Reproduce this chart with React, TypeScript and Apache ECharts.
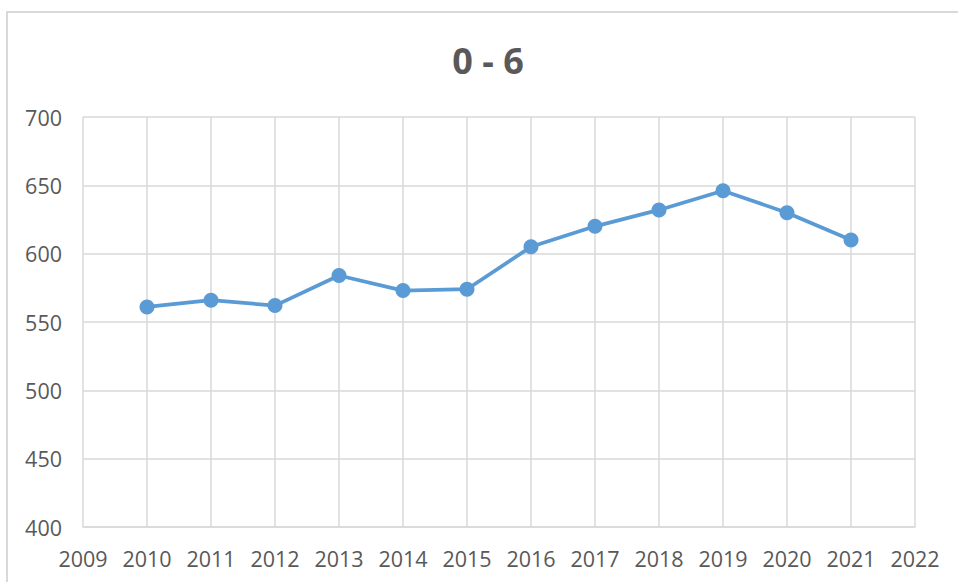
import React, { useEffect, useRef } from "react";
import * as echarts from "echarts";

const titleText = "0 - 6";
const years = [2010, 2011, 2012, 2013, 2014, 2015, 2016, 2017, 2018, 2019, 2020, 2021];
const values = [561, 566, 562, 584, 573, 574, 605, 620, 632, 646, 630, 610];
const xMin = 2009;
const xMax = 2022;
const yMin = 400;
const yMax = 700;
const yStep = 50;

export default function App() {
  const ref = useRef<HTMLDivElement>(null);
  useEffect(() => {
    if (!ref.current) return;
    const chart = echarts.init(ref.current, undefined, { renderer: "svg" });
    const font = '"Open Sans", "DejaVu Sans", sans-serif';
    chart.setOption({
      animation: false,
      backgroundColor: "#ffffff",
      graphic: [
        {
          type: "rect",
          shape: { x: 7, y: 12, width: 990, height: 620 },
          style: { fill: "none", stroke: "#d9d9d9", lineWidth: 2 },
          z: 0,
        },
        {
          type: "text",
          x: 488,
          y: 60,
          style: {
            text: titleText,
            fontSize: 36,
            fontWeight: "bold",
            fontFamily: font,
            fill: "#595959",
            align: "center",
            verticalAlign: "middle",
          },
        },
      ],
      grid: { left: 83, top: 117, width: 832, height: 410, containLabel: false },
      xAxis: {
        type: "value",
        min: xMin,
        max: xMax,
        interval: 1,
        axisLine: { show: true, lineStyle: { color: "#d9d9d9", width: 1.5 } },
        axisTick: { show: false },
        splitLine: { show: true, lineStyle: { color: "#d9d9d9", width: 1.5 } },
        axisLabel: {
          color: "#595959",
          fontSize: 21.5,
          fontFamily: font,
          margin: 20,
          formatter: (v: number) => String(v),
        },
      },
      yAxis: {
        type: "value",
        min: yMin,
        max: yMax,
        interval: yStep,
        axisLine: { show: false },
        axisTick: { show: false },
        splitLine: { show: true, lineStyle: { color: "#d9d9d9", width: 1.5 } },
        axisLabel: {
          color: "#595959",
          fontSize: 21.5,
          fontFamily: font,
          margin: 21,
        },
      },
      series: [
        {
          type: "line",
          data: years.map((y, i) => [y, values[i]]),
          color: "#5b9bd5",
          lineStyle: { color: "#5b9bd5", width: 3.75 },
          itemStyle: { color: "#5b9bd5" },
          symbol: "circle",
          symbolSize: 15,
          showSymbol: true,
        },
      ],
    });
    return () => chart.dispose();
  }, []);
  return (
    <div
      ref={ref}
      style={{ position: "fixed", left: 0, top: 0, width: 958, height: 582 }}
    />
  );
}
